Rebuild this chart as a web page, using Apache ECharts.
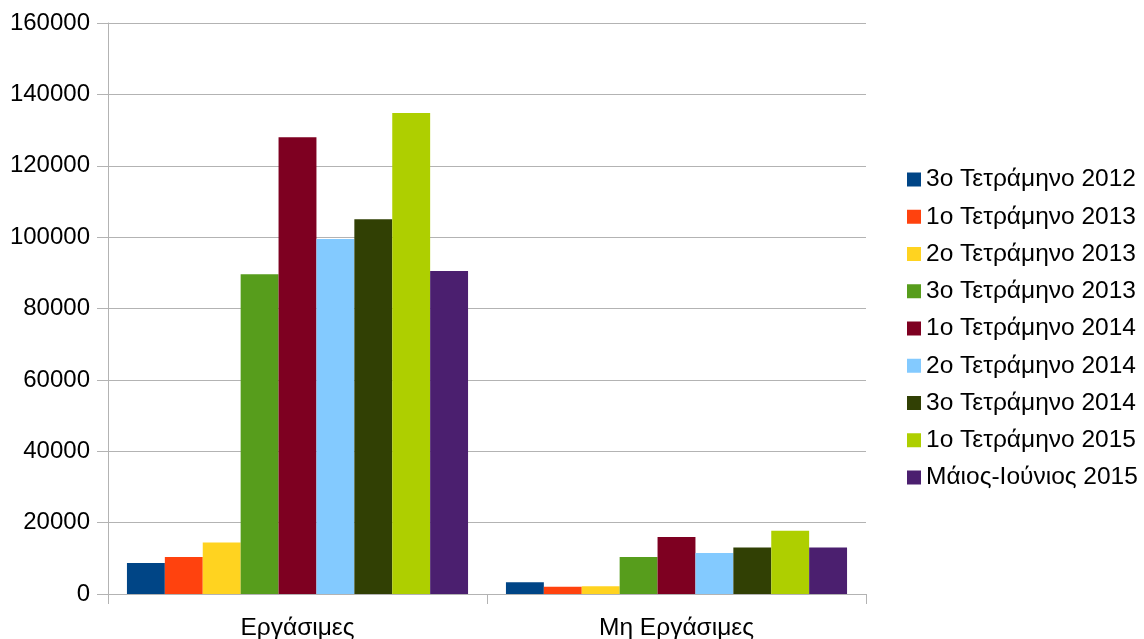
<!DOCTYPE html>
<html>
<head>
<meta charset="utf-8">
<script src="https://cdn.jsdelivr.net/npm/echarts@6/dist/echarts.min.js"></script>
<style>html,body{margin:0;padding:0;background:#fff;}#chart{width:1144px;height:639px;}</style>
</head>
<body>
<div id="chart"></div>
<script>
const categories = ['Εργάσιμες', 'Μη Εργάσιμες'];
const seriesNames = ['3o Τετράμηνο 2012', '1o Τετράμηνο 2013', '2o Τετράμηνο 2013', '3o Τετράμηνο 2013', '1o Τετράμηνο 2014', '2o Τετράμηνο 2014', '3o Τετράμηνο 2014', '1o Τετράμηνο 2015', 'Μάιος-Ιούνιος 2015'];
const colors = ['#004586', '#ff420e', '#ffd320', '#579d1c', '#7e0021', '#83caff', '#314004', '#aecf00', '#4b1f6f'];
const s2012q3 = [8700, 3300];
const s2013q1 = [10400, 2000];
const s2013q2 = [14400, 2200];
const s2013q3 = [89600, 10400];
const s2014q1 = [128000, 16000];
const s2014q2 = [99500, 11500];
const s2014q3 = [105000, 13000];
const s2015q1 = [134800, 17700];
const s2015mj = [90500, 13000];
const values = [s2012q3, s2013q1, s2013q2, s2013q3, s2014q1, s2014q2, s2014q3, s2015q1, s2015mj];

const FONT = '"Liberation Sans", Arial, sans-serif';
const chart = echarts.init(document.getElementById('chart'), null, {renderer: 'canvas'});
chart.setOption({
  animation: false,
  color: colors,
  textStyle: {fontFamily: FONT},
  grid: {left: 108, right: 278, top: 23, bottom: 45, containLabel: false, outerBoundsMode: 'none'},
  legend: {
    orient: 'vertical', left: 902, top: 162,
    itemWidth: 14, itemHeight: 14, itemGap: 12.25,
    icon: 'rect',
    textStyle: {fontFamily: FONT, fontSize: 24.5, color: '#000', lineHeight: 24},
    data: seriesNames
  },
  xAxis: {
    type: 'category', data: categories,
    axisLine: {lineStyle: {color: '#b3b3b3', width: 1}},
    axisTick: {show: true, length: 10, lineStyle: {color: '#b3b3b3'}},
    axisLabel: {fontFamily: FONT, fontSize: 24.5, color: '#000', margin: 26, lineHeight: 16}
  },
  yAxis: {
    type: 'value', min: 0, max: 160000, interval: 20000,
    axisLine: {show: true, lineStyle: {color: '#b3b3b3', width: 1}},
    axisTick: {show: true, length: 11, lineStyle: {color: '#b3b3b3'}},
    splitLine: {lineStyle: {color: '#b3b3b3', width: 1}},
    axisLabel: {fontFamily: FONT, fontSize: 24, color: '#000', margin: 18, formatter: v => String(v)}
  },
  series: seriesNames.map((n, i) => ({
    name: n, type: 'bar', data: values[i],
    barGap: '0%', barCategoryGap: '10%'
  }))
});
</script>
</body>
</html>
